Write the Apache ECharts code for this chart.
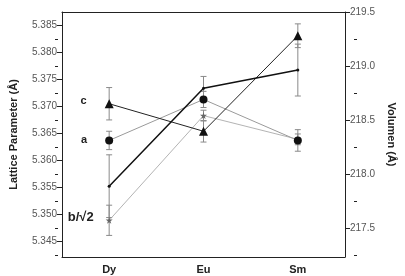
<!DOCTYPE html>
<html><head><meta charset="utf-8">
<script src="https://cdn.jsdelivr.net/npm/echarts@6/dist/echarts.min.js"></script>
<style>html,body{margin:0;padding:0;background:#fff}#c{width:405px;height:276px}</style>
</head><body><div id="c"></div>
<script>
const categories = ['Dy', 'Eu', 'Sm'];
const aVals = [5.3637, 5.3713, 5.3637];
const aErr = [0.0017, 0.0015, 0.002];
const cVals = [5.3705, 5.3654, 5.3831];
const cErr = [0.003, 0.002, 0.0022];
const bVals = [5.3489, 5.3683, 5.3639];
const bErr = [0.0028, 0.001, 0.001];
const volVals = [217.889, 218.794, 218.963];
const volErr = [0.29, 0.11, 0.24];
const leftTicks = [5.345, 5.350, 5.355, 5.360, 5.365, 5.370, 5.375, 5.380, 5.385];
const leftMinor = [5.3425, 5.3475, 5.3525, 5.3575, 5.3625, 5.3675, 5.3725, 5.3775, 5.3825];
const rightTicks = [217.5, 218.0, 218.5, 219.0, 219.5];
const rightMinor = [217.25, 217.75, 218.25, 218.75, 219.25];
const leftMin = 5.3421, leftMax = 5.3875;
const rightMin = 217.234, rightMax = 219.5;

const AX = '#222', TL = '#555', EB = '#8a8a8a';
const FONT = '"Liberation Sans", Arial, sans-serif';
const STAR = 'path://M50,0 L61,35 L98,35 L68,57 L79,91 L50,70 L21,91 L32,57 L2,35 L39,35 Z';

function errRender(params, api) {
  const x = api.value(0), y = api.value(1), e = api.value(2);
  const hi = api.coord([x, y + e]), lo = api.coord([x, y - e]);
  const w = 3;
  const st = {stroke: EB, lineWidth: 1};
  return {type: 'group', children: [
    {type: 'line', shape: {x1: hi[0], y1: hi[1], x2: lo[0], y2: lo[1]}, style: st},
    {type: 'line', shape: {x1: hi[0] - w, y1: hi[1], x2: hi[0] + w, y2: hi[1]}, style: st},
    {type: 'line', shape: {x1: lo[0] - w, y1: lo[1], x2: lo[0] + w, y2: lo[1]}, style: st}
  ]};
}
function errData(vals, errs) { return vals.map((v, i) => [i, v, errs[i]]); }
function errSeries(vals, errs, yi) {
  return {type: 'custom', xAxisIndex: 0, yAxisIndex: yi, renderItem: errRender,
    encode: {x: 0, y: 1}, data: errData(vals, errs), z: 1, silent: true};
}
function firstLabel(text, dist, off, size) {
  return {show: true, position: 'left', distance: dist, offset: off || [0, 0],
    formatter: p => p.dataIndex === 0 ? text : '',
    fontFamily: FONT, fontWeight: 'bold', fontSize: size || 11, color: '#222'};
}

const grid = {left: 58, right: 51, top: 12, bottom: 19, containLabel: false};
const chart = echarts.init(document.getElementById('c'));
chart.setOption({
  animation: false,
  grid: [grid, Object.assign({}, grid)],
  xAxis: [
    {gridIndex: 0, type: 'category', data: categories, position: 'bottom', boundaryGap: true,
      axisLine: {lineStyle: {color: AX, width: 1}},
      axisTick: {alignWithLabel: true, length: 5, lineStyle: {color: AX}},
      axisLabel: {fontFamily: FONT, fontWeight: 'bold', fontSize: 11, color: '#222', margin: 7},
      splitLine: {show: false}},
    {gridIndex: 0, type: 'category', data: categories, position: 'top', boundaryGap: true,
      axisLine: {lineStyle: {color: AX, width: 1}},
      axisTick: {alignWithLabel: true, inside: true, length: 4, lineStyle: {color: AX}},
      axisLabel: {show: false}, splitLine: {show: false}},
    {gridIndex: 1, type: 'category', data: categories, position: 'bottom', boundaryGap: true,
      axisLine: {show: false}, axisTick: {length: 3, lineStyle: {color: AX}},
      axisLabel: {show: false}, splitLine: {show: false}},
    {gridIndex: 1, type: 'category', data: categories, position: 'top', boundaryGap: true,
      axisLine: {show: false}, axisTick: {inside: true, length: 3, lineStyle: {color: AX}},
      axisLabel: {show: false}, splitLine: {show: false}}
  ],
  yAxis: [
    {gridIndex: 0, type: 'value', position: 'left', min: leftMin, max: leftMax,
      name: 'Lattice Parameter (Å)', nameLocation: 'middle', nameGap: 43,
      nameTextStyle: {fontFamily: FONT, fontWeight: 'bold', fontSize: 11, color: '#222'},
      axisLine: {show: true, lineStyle: {color: AX}},
      axisTick: {show: true, length: 5, customValues: leftTicks, lineStyle: {color: AX}},
      axisLabel: {customValues: leftTicks, formatter: v => v.toFixed(3),
        fontFamily: FONT, fontSize: 10, color: TL, margin: 5},
      splitLine: {show: false}},
    {gridIndex: 0, type: 'value', position: 'right', min: rightMin, max: rightMax,
      name: 'Volumen (Å)', nameLocation: 'middle', nameGap: 41, nameRotate: -90,
      nameTextStyle: {fontFamily: FONT, fontWeight: 'bold', fontSize: 11, color: '#222'},
      axisLine: {show: true, lineStyle: {color: AX}},
      axisTick: {show: true, length: 5, customValues: rightTicks, lineStyle: {color: AX}},
      axisLabel: {customValues: rightTicks, formatter: v => v.toFixed(1),
        fontFamily: FONT, fontSize: 10, color: TL, margin: 5},
      splitLine: {show: false}},
    {gridIndex: 1, type: 'value', position: 'left', min: leftMin, max: leftMax,
      axisLine: {show: false},
      axisTick: {show: true, length: 3, customValues: leftMinor, lineStyle: {color: AX}},
      axisLabel: {show: false}, splitLine: {show: false}},
    {gridIndex: 1, type: 'value', position: 'right', min: rightMin, max: rightMax,
      axisLine: {show: false},
      axisTick: {show: true, length: 3, customValues: rightMinor, lineStyle: {color: AX}},
      axisLabel: {show: false}, splitLine: {show: false}}
  ],
  series: [
    errSeries(aVals, aErr, 0),
    errSeries(cVals, cErr, 0),
    errSeries(bVals, bErr, 0),
    errSeries(volVals, volErr, 1),
    {name: 'b/√2', type: 'line', xAxisIndex: 0, yAxisIndex: 0, data: bVals,
      symbol: STAR, symbolSize: 7, showAllSymbol: true,
      itemStyle: {color: '#666'}, lineStyle: {color: '#a0a0a0', width: 0.8},
      label: firstLabel('b/√2', 12, [0, -3], 13), z: 3},
    {name: 'a', type: 'line', xAxisIndex: 0, yAxisIndex: 0, data: aVals,
      symbol: 'circle', symbolSize: 8,
      itemStyle: {color: '#111'}, lineStyle: {color: '#9a9a9a', width: 1},
      label: firstLabel('a', 18), z: 4},
    {name: 'c', type: 'line', xAxisIndex: 0, yAxisIndex: 0, data: cVals,
      symbol: 'triangle', symbolSize: 9,
      itemStyle: {color: '#111'}, lineStyle: {color: '#222', width: 1},
      label: firstLabel('c', 18, [0, -3]), z: 4},
    {name: 'Volumen', type: 'line', xAxisIndex: 0, yAxisIndex: 1, data: volVals,
      symbol: 'circle', symbolSize: 3,
      itemStyle: {color: '#111'}, lineStyle: {color: '#111', width: 1.5}, z: 4}
  ]
});
</script></body></html>
